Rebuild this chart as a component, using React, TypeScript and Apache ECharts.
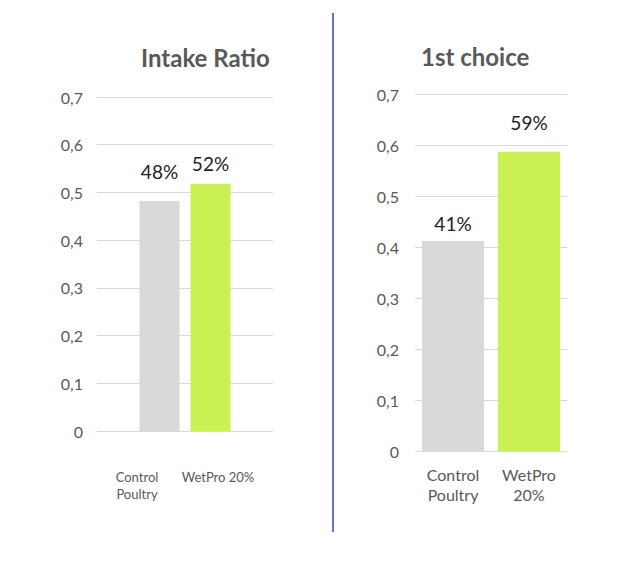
import React, { useEffect, useRef } from "react";
import * as echarts from "echarts";

const leftTitle = "Intake Ratio";
const rightTitle = "1st choice";
const leftCategories = ["Control\nPoultry", "WetPro 20%"];
const leftValues = [0.482, 0.518];
const rightCategories = ["Control\nPoultry", "WetPro\n20%"];
const rightValues = [0.412, 0.587];
const barColors = ["#d9d9d9", "#c9f153"];
const yTicks = { min: 0, max: 0.7, interval: 0.1 };

const FONT = "Lato, 'Noto Sans', sans-serif";
const fmtY = (v: number) => (v === 0 ? "0" : v.toFixed(1).replace(".", ","));
const fmtPct = (p: any) => Math.round(p.value * 100) + "%";

export default function App() {
  const ref = useRef<HTMLDivElement>(null);
  useEffect(() => {
    document.body.style.margin = "0";
    const chart = echarts.init(ref.current!, null, { renderer: "svg" });
    const yAxisBase = (gridIndex: number, fontSize: number, margin: number) => ({
      type: "value",
      gridIndex,
      min: yTicks.min,
      max: yTicks.max,
      interval: yTicks.interval,
      axisLine: { show: false },
      axisTick: { show: false },
      splitLine: { lineStyle: { color: "#d9d9d9", width: 1 } },
      axisLabel: { formatter: fmtY, color: "#595959", fontSize, fontFamily: FONT, margin },
    });
    const labelBase = (fontSize: number) => ({
      show: true,
      position: "top",
      formatter: fmtPct,
      color: "#222",
      fontSize,
      fontFamily: FONT,
    });
    const titleStyle = { fontSize: 24, fontWeight: "bold", color: "#595959", fontFamily: FONT };
    chart.setOption({
      animation: false,
      backgroundColor: "#fff",
      title: [
        { text: leftTitle, left: 136, top: 40, textStyle: titleStyle },
        { text: rightTitle, left: 416, top: 39, textStyle: titleStyle },
      ],
      grid: [
        { left: 97, top: 97, width: 176, height: 334 },
        { left: 415, top: 94, width: 152, height: 357 },
      ],
      xAxis: [
        {
          type: "category",
          gridIndex: 0,
          data: [""],
          axisLine: { show: false },
          axisTick: { show: false },
          axisLabel: { show: false },
        },
        {
          type: "category",
          gridIndex: 1,
          data: rightCategories,
          axisLine: { show: false },
          axisTick: { show: false },
          axisLabel: { color: "#595959", fontSize: 16, fontFamily: FONT, margin: 13, lineHeight: 20 },
        },
      ],
      yAxis: [yAxisBase(0, 16, 14), yAxisBase(1, 16, 16)],
      series: [
        {
          type: "bar",
          name: leftCategories[0],
          xAxisIndex: 0,
          yAxisIndex: 0,
          barWidth: 40,
          barGap: "27.5%",
          itemStyle: { color: barColors[0] },
          label: { ...labelBase(19), distance: 20 },
          data: [leftValues[0]],
        },
        {
          type: "bar",
          name: leftCategories[1],
          xAxisIndex: 0,
          yAxisIndex: 0,
          barWidth: 40,
          itemStyle: { color: barColors[1] },
          label: { ...labelBase(19), distance: 11 },
          data: [leftValues[1]],
        },
        {
          type: "bar",
          xAxisIndex: 1,
          yAxisIndex: 1,
          barWidth: 62,
          label: labelBase(19),
          data: rightValues.map((v, i) => ({
            value: v,
            itemStyle: { color: barColors[i] },
            label: { distance: i === 0 ? 8 : 20 },
          })),
        },
      ],
      graphic: [
        {
          type: "line",
          shape: { x1: 333, y1: 13, x2: 333, y2: 532 },
          style: { stroke: "#6b6fd8", lineWidth: 2 },
        },
        {
          type: "text",
          x: 137,
          y: 468,
          style: {
            text: leftCategories[0],
            fill: "#595959",
            font: `13px ${FONT}`,
            textAlign: "center",
            lineHeight: 17,
          },
        },
        {
          type: "text",
          x: 218,
          y: 468,
          style: {
            text: leftCategories[1],
            fill: "#595959",
            font: `13px ${FONT}`,
            textAlign: "center",
            lineHeight: 17,
          },
        },
      ],
    });
    return () => chart.dispose();
  }, []);
  return <div ref={ref} style={{ width: 644, height: 562 }} />;
}
